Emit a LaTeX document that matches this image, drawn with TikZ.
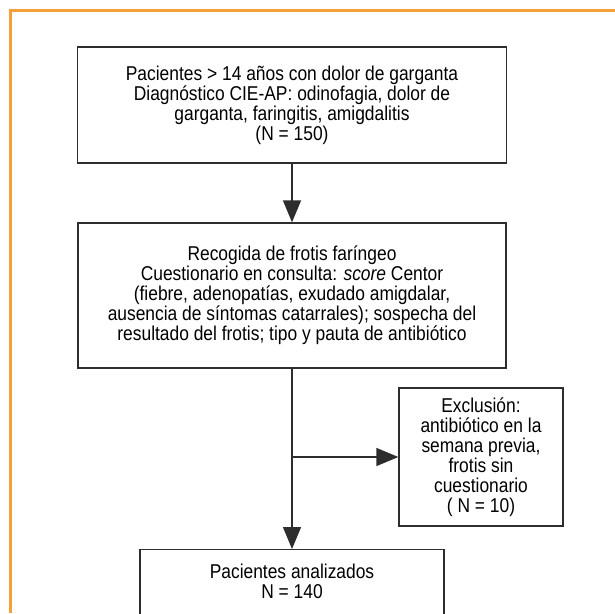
\documentclass[tikz,border=0pt]{standalone}
\usepackage{fontspec}
\setmainfont{Liberation Sans}[FakeStretch=0.87]
\usetikzlibrary{arrows.meta,positioning}
\definecolor{naranja}{RGB}{246,160,58}
\definecolor{trazo}{RGB}{45,45,45}

\begin{document}
\begin{tikzpicture}[x=1pt,y=-1pt,
	caja/.style={draw=trazo,line width=1.3pt,align=center,inner sep=0pt,
		font=\fontsize{20}{20}\selectfont},
	flecha/.style={draw=trazo,line width=1.3pt,-{Triangle[length=22pt,width=18pt]}}]
	\clip (0,0) rectangle (615,613);
	\draw[naranja,line width=3pt] (10.5,613) -- (10.5,10.5) -- (615,10.5);
	\node[caja,minimum width=429pt,minimum height=116pt] (pacientes) at (292,105)
		{Pacientes > 14 años con dolor de garganta\\Diagnóstico CIE-AP: odinofagia, dolor de\\garganta, faringitis, amigdalitis\\(N = 150)};
	\node[caja,minimum width=428pt,minimum height=145pt] (recogida) at (292,295.5)
		{Recogida de frotis faríngeo\\Cuestionario en consulta: \textit{score} Centor\\(fiebre, adenopatías, exudado amigdalar,\\ausencia de síntomas catarrales); sospecha del\\resultado del frotis; tipo y pauta de antibiótico};
	\node[caja,minimum width=164pt,minimum height=138pt] (exclusion) at (481,457)
		{Exclusión:\\antibiótico en la\\semana previa,\\frotis sin\\cuestionario\\( N = 10)};
	\node[caja,minimum width=304pt,anchor=north,inner ysep=14pt,text depth=40pt] (analizados) at (292,549)
		{Pacientes analizados\\N = 140};
	\draw[flecha] (pacientes) -- (recogida);
	\draw[flecha] (recogida) -- (analizados);
	\draw[flecha] (recogida.south |- exclusion.west) -- (exclusion.west);
\end{tikzpicture}
\end{document}
